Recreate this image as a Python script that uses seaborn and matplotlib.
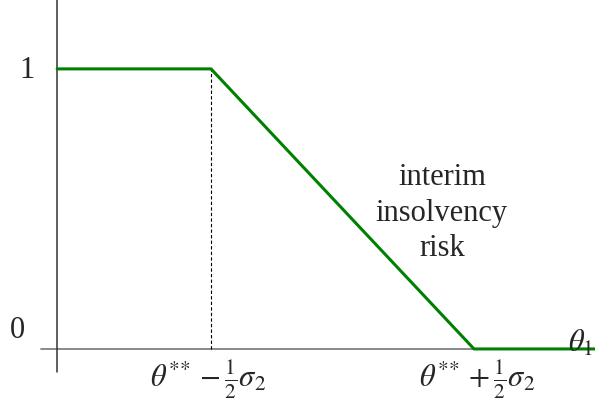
import matplotlib
matplotlib.use("Agg")
import matplotlib.pyplot as plt
import seaborn as sns
import pandas as pd

# Data (theta in units of sigma_2, centred on theta**)
theta = [-1.085, -0.5, 0.5, 0.96]
risk = [1, 1, 0, 0]
kink_left = -0.5
kink_right = 0.5
y_labels = ["0", "1"]
x_tick_labels = [r"$\theta^{*\!*}-\frac{1}{2}\sigma_2$", r"$\theta^{*\!*}+\frac{1}{2}\sigma_2$"]
annotation = "interim\ninsolvency\nrisk"
axis_label = r"$\theta_1$"

sns.set_style("white")
plt.rcParams["font.family"] = ["Liberation Serif", "DejaVu Serif"]
plt.rcParams["mathtext.fontset"] = "stix"

fig = plt.figure(figsize=(5.95, 4.03), dpi=100)
ax = fig.add_axes([0, 0, 1, 1])
ax.set_xlim(-1.3023, 0.96)
ax.set_ylim(-0.193, 1.246)
ax.axis("off")

# axes lines
ax.plot([-1.146, 0.96], [0, 0], color="#808080", lw=1.3, zorder=1)
ax.plot([theta[0], theta[0]], [-0.082, 1.246], color="#333333", lw=1.1, zorder=1)

# dashed guide
ax.plot([kink_left, kink_left], [0, 1], color="black", lw=0.8, ls=(0, (3, 2)), zorder=1)

df = pd.DataFrame({"theta": theta, "risk": risk})
sns.lineplot(data=df, x="theta", y="risk", ax=ax, color="#008000", lw=2.2, zorder=3,
             estimator=None, sort=False)
ax.set_xlabel("")
ax.set_ylabel("")

fs = 22
ax.text(-1.1996, 0.993, y_labels[1], ha="center", va="center", fontsize=fs)
ax.text(-1.2376, 0.065, y_labels[0], ha="center", va="center", fontsize=fs)
ax.text(0.378, 0.485, annotation, ha="center", va="center", fontsize=fs, linespacing=1.3)
ax.text(0.905, 0.02, axis_label, ha="center", va="center", fontsize=fs)
ax.text(kink_left - 0.01, -0.11, x_tick_labels[0], ha="center", va="center", fontsize=fs)
ax.text(kink_right + 0.01, -0.11, x_tick_labels[1], ha="center", va="center", fontsize=fs)

fig.savefig("out.png", dpi=100)
